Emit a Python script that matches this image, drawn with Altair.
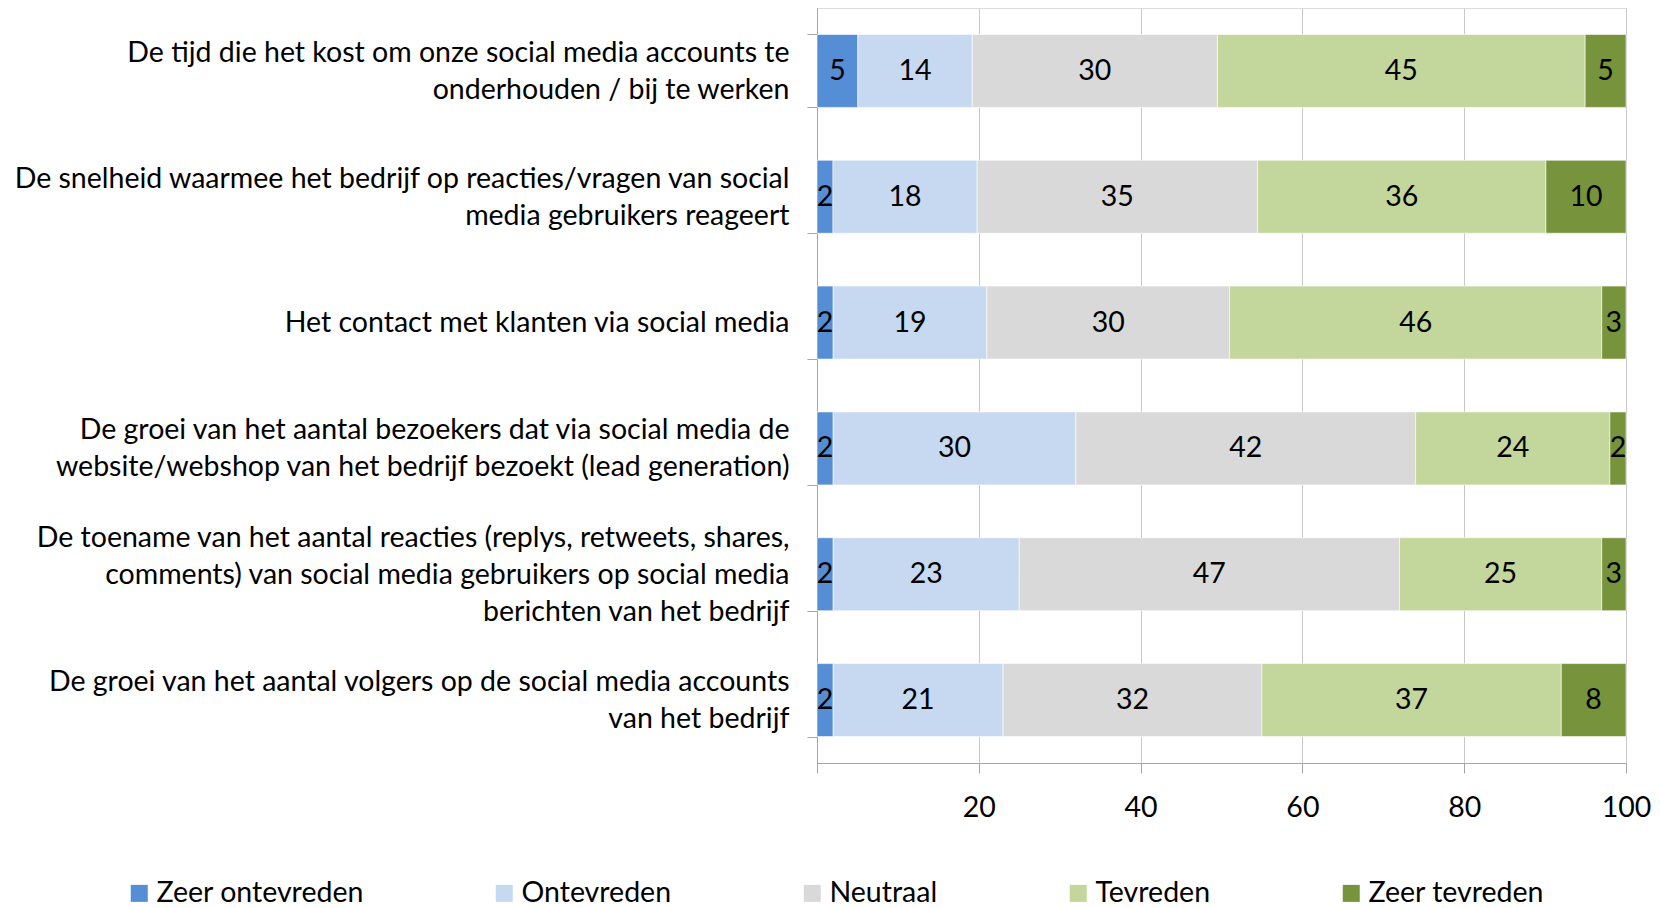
import altair as alt
import pandas as pd

# Categories (top to bottom), each as its displayed lines
category_lines = [
    ["De tijd die het kost om onze social media accounts te", "onderhouden / bij te werken"],
    ["De snelheid waarmee het bedrijf op reacties/vragen van social", "media gebruikers reageert"],
    ["Het contact met klanten via social media"],
    ["De groei van het aantal bezoekers dat via social media de", "website/webshop van het bedrijf bezoekt (lead generation)"],
    ["De toename van het aantal reacties (replys, retweets, shares,", "comments) van social media gebruikers op social media", "berichten van het bedrijf"],
    ["De groei van het aantal volgers op de social media accounts", "van het bedrijf"],
]
levels = ["Zeer ontevreden", "Ontevreden", "Neutraal", "Tevreden", "Zeer tevreden"]
colors = ["#558ED5", "#C6D9F1", "#D9D9D9", "#C3D69B", "#77933C"]

zeer_ontevreden = [5, 2, 2, 2, 2, 2]
ontevreden = [14, 18, 19, 30, 23, 21]
neutraal = [30, 35, 30, 42, 47, 32]
tevreden = [45, 36, 46, 24, 25, 37]
zeer_tevreden = [5, 10, 3, 2, 3, 8]

x_ticks = [0, 20, 40, 60, 80, 100]

categories = ["\n".join(lines) for lines in category_lines]
series = [zeer_ontevreden, ontevreden, neutraal, tevreden, zeer_tevreden]

rows = []
for li, (lev, vals) in enumerate(zip(levels, series)):
    for ci, cat in enumerate(categories):
        rows.append({"category": cat, "level": lev, "order": li, "value": vals[ci]})
df = pd.DataFrame(rows)

FONT = "Lato"
FS = 28.5
LH = 37

base = alt.Chart(df).transform_joinaggregate(
    total="sum(value)", groupby=["category"]
).transform_calculate(
    pct="datum.value / datum.total * 100"
).transform_stack(
    stack="pct", groupby=["category"], sort=[alt.SortField("order", order="ascending")], as_=["x0", "x1"]
).transform_calculate(
    mid="(datum.x0 + datum.x1) / 2"
)

nlines = "length(split(datum.value, '\\n'))"

y_enc = alt.Y(
    "category:N",
    sort=categories,
    scale=alt.Scale(paddingInner=0.42, paddingOuter=0.21),
    axis=alt.Axis(
        title=None,
        labelExpr="split(datum.label, '\\n')",
        labelAlign="right",
        labelBaseline="middle",
        labelFont=FONT,
        labelFontSize=FS,
        labelLineHeight=LH,
        labelColor="#000000",
        labelPadding=18,
        labelLimit=1000,
        labelOffset={
            "condition": [
                {"test": nlines + " == 2", "value": -LH / 2},
                {"test": nlines + " == 3", "value": -LH},
            ],
            "value": 0,
        },
        tickBand="extent",
        tickSize=10,
        tickColor="#A6A6A6",
        domainColor="#A6A6A6",
        grid=False,
    ),
)

bars = base.mark_bar(stroke="white", strokeWidth=0.6).encode(
    x=alt.X(
        "x0:Q",
        scale=alt.Scale(domain=[0, 100], nice=False),
        axis=alt.Axis(
            title=None,
            values=x_ticks,
            labelExpr="datum.value == 0 ? '' : datum.label",
            labelFont=FONT,
            labelFontSize=FS,
            labelColor="#000000",
            labelPadding=20,
            tickSize=10,
            tickColor="#A6A6A6",
            domainColor="#A6A6A6",
            grid=True,
            gridColor="#C8C8C8",
            labelFlush=False,
        ),
    ),
    x2="x1:Q",
    y=y_enc,
    color=alt.Color(
        "level:N",
        scale=alt.Scale(domain=levels, range=colors),
        legend=alt.Legend(
            title=None,
            orient="none",
            direction="horizontal",
            legendX=-692,
            legendY=871,
            symbolType="square",
            symbolSize=289,
            symbolStrokeWidth=0,
            labelFont=FONT,
            labelFontSize=FS,
            labelColor="#000000",
            labelOffset=3,
            columnPadding=126,
            labelLimit=1000,
        ),
    ),
    order=alt.Order("order:Q"),
)

labels = base.mark_text(font=FONT, fontSize=FS, color="#000000", baseline="middle", align="center").encode(
    x=alt.X("mid:Q"),
    y=alt.Y("category:N", sort=categories),
    text=alt.Text("value:Q"),
)

chart = alt.layer(bars, labels).properties(
    width=809,
    height=755,
    autosize=alt.AutoSizeParams(type="none"),
    padding={"left": 809, "top": 0, "right": 26, "bottom": 144},
).configure_view(
    stroke="#D9D9D9"
).configure(background="white")

chart.save("out.html", embed_options={"renderer": "svg", "actions": False})
